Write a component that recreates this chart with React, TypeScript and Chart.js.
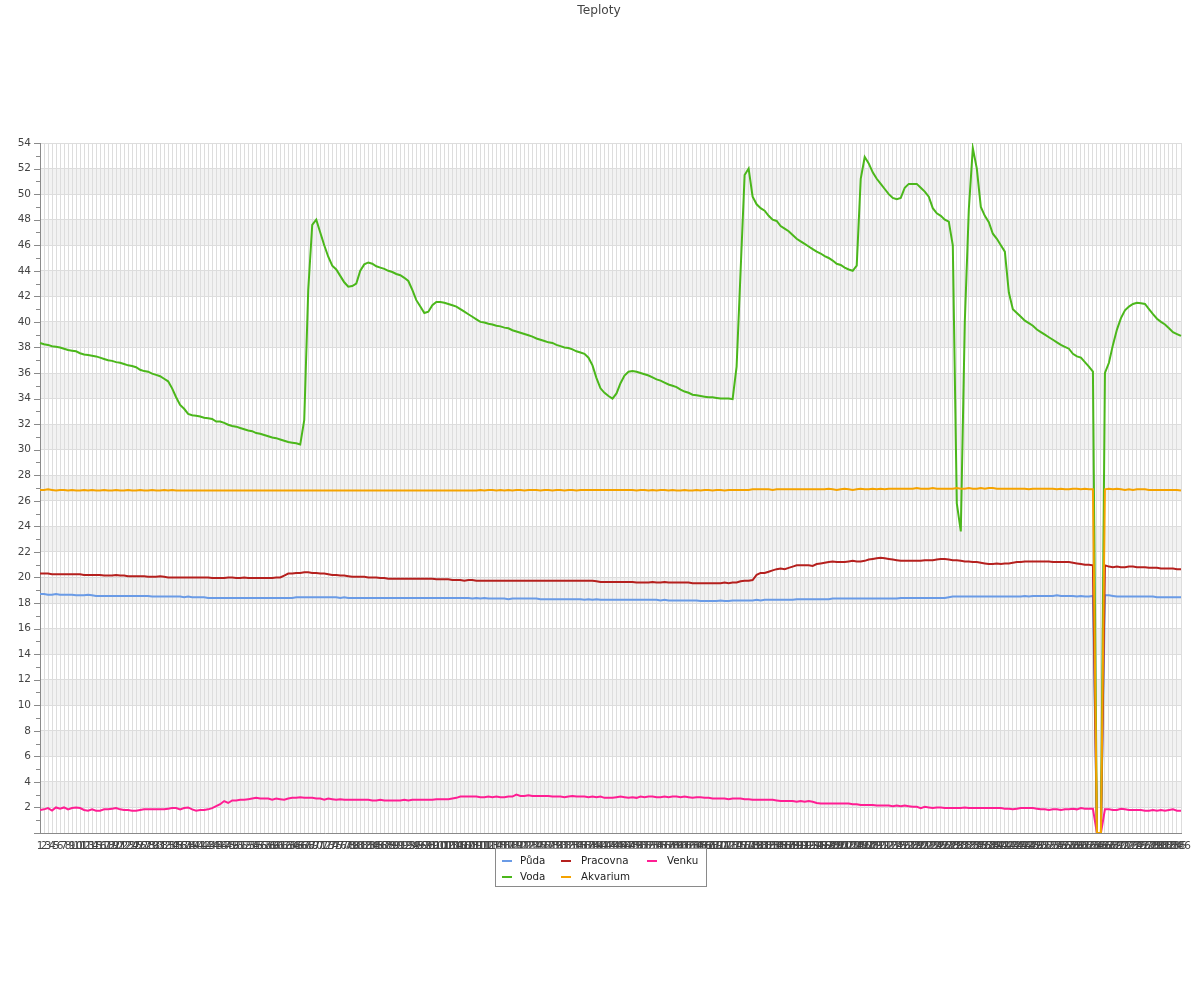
import React, { useEffect, useRef } from "react";
import { Chart, registerables } from "chart.js";

Chart.register(...registerables);

const TITLE = "Teploty";
const SERIES_NAMES = ["Půda", "Voda", "Pracovna", "Akvarium", "Venku"];
const SERIES_COLORS = ["#6A9BE6", "#4BB71B", "#B5201E", "#F5A300", "#FF1E93"];

const Y_MIN = 0;
const Y_MAX = 54;
const Y_STEP = 2;

const puda = [
  18.7, 18.7, 18.65, 18.65, 18.7, 18.65, 18.65, 18.65, 18.65, 18.6,
  18.6, 18.6, 18.65, 18.6, 18.55, 18.55, 18.55, 18.55, 18.55, 18.55,
  18.55, 18.55, 18.55, 18.55, 18.55, 18.55, 18.55, 18.55, 18.5, 18.5,
  18.5, 18.5, 18.5, 18.5, 18.5, 18.5, 18.45, 18.5, 18.45, 18.45,
  18.45, 18.45, 18.4, 18.4, 18.4, 18.4, 18.4, 18.4, 18.4, 18.4,
  18.4, 18.4, 18.4, 18.4, 18.4, 18.4, 18.4, 18.4, 18.4, 18.4,
  18.4, 18.4, 18.4, 18.4, 18.45, 18.45, 18.45, 18.45, 18.45, 18.45,
  18.45, 18.45, 18.45, 18.45, 18.45, 18.4, 18.45, 18.4, 18.4, 18.4,
  18.4, 18.4, 18.4, 18.4, 18.4, 18.4, 18.4, 18.4, 18.4, 18.4,
  18.4, 18.4, 18.4, 18.4, 18.4, 18.4, 18.4, 18.4, 18.4, 18.4,
  18.4, 18.4, 18.4, 18.4, 18.4, 18.4, 18.4, 18.4, 18.35, 18.4,
  18.35, 18.4, 18.35, 18.35, 18.35, 18.35, 18.35, 18.3, 18.35, 18.35,
  18.35, 18.35, 18.35, 18.35, 18.35, 18.3, 18.3, 18.3, 18.3, 18.3,
  18.3, 18.3, 18.3, 18.3, 18.3, 18.3, 18.25, 18.3, 18.25, 18.3,
  18.25, 18.25, 18.25, 18.25, 18.25, 18.25, 18.25, 18.25, 18.25, 18.25,
  18.25, 18.25, 18.25, 18.25, 18.25, 18.2, 18.25, 18.2, 18.2, 18.2,
  18.2, 18.2, 18.2, 18.2, 18.2, 18.15, 18.15, 18.15, 18.15, 18.15,
  18.2, 18.15, 18.15, 18.2, 18.2, 18.2, 18.2, 18.2, 18.2, 18.25,
  18.2, 18.25, 18.25, 18.25, 18.25, 18.25, 18.25, 18.25, 18.25, 18.3,
  18.3, 18.3, 18.3, 18.3, 18.3, 18.3, 18.3, 18.3, 18.35, 18.35,
  18.35, 18.35, 18.35, 18.35, 18.35, 18.35, 18.35, 18.35, 18.35, 18.35,
  18.35, 18.35, 18.35, 18.35, 18.35, 18.4, 18.4, 18.4, 18.4, 18.4,
  18.4, 18.4, 18.4, 18.4, 18.4, 18.4, 18.4, 18.45, 18.5, 18.5,
  18.5, 18.5, 18.5, 18.5, 18.5, 18.5, 18.5, 18.5, 18.5, 18.5,
  18.5, 18.5, 18.5, 18.5, 18.5, 18.5, 18.55, 18.5, 18.55, 18.55,
  18.55, 18.55, 18.55, 18.55, 18.6, 18.55, 18.55, 18.55, 18.55, 18.5,
  18.55, 18.5, 18.5, 18.55, 0, 0, 18.6, 18.6, 18.55, 18.5,
  18.5, 18.5, 18.5, 18.5, 18.5, 18.5, 18.5, 18.5, 18.5, 18.45,
  18.45, 18.45, 18.45, 18.45, 18.45, 18.45,
];

const voda = [
  38.35, 38.25, 38.2, 38.1, 38.05, 38.0, 37.9, 37.8, 37.75, 37.7,
  37.55, 37.45, 37.4, 37.35, 37.3, 37.2, 37.1, 37.0, 36.95, 36.85,
  36.8, 36.7, 36.6, 36.55, 36.45, 36.25, 36.15, 36.1, 35.95, 35.85,
  35.75, 35.55, 35.35, 34.8, 34.1, 33.5, 33.2, 32.8, 32.7, 32.65,
  32.6, 32.5, 32.45, 32.4, 32.2, 32.2, 32.1, 31.95, 31.85, 31.8,
  31.7, 31.6, 31.5, 31.45, 31.3, 31.25, 31.15, 31.05, 30.95, 30.9,
  30.8, 30.7, 30.6, 30.55, 30.5, 30.4, 32.3, 42.5, 47.6, 48.0,
  47.0, 46.0, 45.1, 44.4, 44.1, 43.6, 43.1, 42.75, 42.8, 43.0,
  44.0, 44.5, 44.65, 44.55, 44.35, 44.25, 44.15, 44.0, 43.9, 43.75,
  43.65, 43.45, 43.2, 42.5, 41.7, 41.2, 40.7, 40.8, 41.3, 41.55,
  41.55, 41.5, 41.4, 41.3, 41.2, 41.0, 40.8, 40.6, 40.4, 40.2,
  40.0, 39.95, 39.85, 39.8, 39.7, 39.65, 39.55, 39.5, 39.35, 39.25,
  39.15, 39.05, 38.95, 38.85, 38.7, 38.6, 38.5, 38.4, 38.35, 38.2,
  38.1, 38.0, 37.95, 37.85, 37.7, 37.6, 37.5, 37.2, 36.6, 35.6,
  34.8, 34.45, 34.2, 34.0, 34.4, 35.2, 35.8, 36.1, 36.15, 36.1,
  36.0, 35.9, 35.8, 35.65, 35.5, 35.4, 35.25, 35.1, 35.0, 34.9,
  34.7, 34.55, 34.45, 34.3, 34.25, 34.2, 34.15, 34.1, 34.1, 34.05,
  34.0, 34.0, 34.0, 33.95, 36.5, 44.0, 51.5, 52.0, 49.8, 49.2,
  48.9, 48.7, 48.3, 48.0, 47.9, 47.5, 47.3, 47.1, 46.8, 46.5,
  46.3, 46.1, 45.9, 45.7, 45.5, 45.35, 45.15, 45.0, 44.8, 44.55,
  44.45, 44.25, 44.1, 44.0, 44.4, 51.2, 52.9, 52.4, 51.7, 51.2,
  50.8, 50.4, 50.0, 49.7, 49.6, 49.7, 50.5, 50.8, 50.8, 50.8,
  50.5, 50.2, 49.8, 48.9, 48.5, 48.3, 48.0, 47.85, 46.0, 25.8,
  23.6, 40.0, 48.8, 53.6, 52.0, 49.0, 48.3, 47.8, 46.9, 46.5,
  46.0, 45.5, 42.3, 41.0, 40.7, 40.4, 40.1, 39.9, 39.7, 39.4,
  39.2, 39.0, 38.8, 38.6, 38.4, 38.2, 38.05, 37.9, 37.5, 37.3,
  37.2, 36.85, 36.5, 36.1, 0, 0, 36.0, 36.8, 38.2, 39.4,
  40.3, 40.9, 41.2, 41.4, 41.5, 41.45, 41.4, 41.0, 40.6, 40.25,
  40.0, 39.8, 39.5, 39.2, 39.05, 38.9,
];

const pracovna = [
  20.3, 20.3, 20.3, 20.25, 20.25, 20.25, 20.25, 20.25, 20.25, 20.25,
  20.25, 20.2, 20.2, 20.2, 20.2, 20.2, 20.15, 20.15, 20.15, 20.2,
  20.15, 20.15, 20.1, 20.1, 20.1, 20.1, 20.1, 20.05, 20.05, 20.05,
  20.1, 20.05, 20.0, 20.0, 20.0, 20.0, 20.0, 20.0, 20.0, 20.0,
  20.0, 20.0, 20.0, 19.95, 19.95, 19.95, 19.95, 20.0, 20.0, 19.95,
  19.95, 20.0, 19.95, 19.95, 19.95, 19.95, 19.95, 19.95, 19.95, 20.0,
  20.0, 20.15, 20.3, 20.3, 20.35, 20.35, 20.4, 20.4, 20.35, 20.35,
  20.3, 20.3, 20.25, 20.2, 20.2, 20.15, 20.15, 20.1, 20.05, 20.05,
  20.05, 20.05, 20.0, 20.0, 20.0, 19.95, 19.95, 19.9, 19.9, 19.9,
  19.9, 19.9, 19.9, 19.9, 19.9, 19.9, 19.9, 19.9, 19.9, 19.85,
  19.85, 19.85, 19.85, 19.8, 19.8, 19.8, 19.75, 19.8, 19.8, 19.75,
  19.75, 19.75, 19.75, 19.75, 19.75, 19.75, 19.75, 19.75, 19.75, 19.75,
  19.75, 19.75, 19.75, 19.75, 19.75, 19.75, 19.75, 19.75, 19.75, 19.75,
  19.75, 19.75, 19.75, 19.75, 19.75, 19.75, 19.75, 19.75, 19.75, 19.7,
  19.65, 19.65, 19.65, 19.65, 19.65, 19.65, 19.65, 19.65, 19.65, 19.6,
  19.6, 19.6, 19.6, 19.65, 19.6, 19.6, 19.65, 19.6, 19.6, 19.6,
  19.6, 19.6, 19.6, 19.55, 19.55, 19.55, 19.55, 19.55, 19.55, 19.55,
  19.55, 19.6, 19.55, 19.6, 19.6, 19.7, 19.75, 19.75, 19.8, 20.2,
  20.35, 20.35, 20.45, 20.55, 20.65, 20.7, 20.65, 20.75, 20.85, 20.95,
  20.95, 20.95, 20.95, 20.9, 21.05, 21.1, 21.15, 21.2, 21.25, 21.2,
  21.2, 21.2, 21.25, 21.3, 21.25, 21.25, 21.3, 21.4, 21.45, 21.5,
  21.55, 21.5, 21.45, 21.4, 21.35, 21.3, 21.3, 21.3, 21.3, 21.3,
  21.3, 21.35, 21.35, 21.35, 21.4, 21.45, 21.45, 21.4, 21.35, 21.35,
  21.3, 21.25, 21.25, 21.2, 21.2, 21.15, 21.1, 21.05, 21.05, 21.1,
  21.05, 21.1, 21.1, 21.15, 21.2, 21.2, 21.25, 21.25, 21.25, 21.25,
  21.25, 21.25, 21.25, 21.2, 21.2, 21.2, 21.2, 21.2, 21.15, 21.1,
  21.05, 21.0, 21.0, 20.95, 0, 0, 20.95, 20.85, 20.8, 20.85,
  20.8, 20.8, 20.85, 20.85, 20.8, 20.8, 20.8, 20.75, 20.75, 20.75,
  20.7, 20.7, 20.7, 20.7, 20.65, 20.65,
];

const akvarium = [
  26.85, 26.85, 26.9, 26.85, 26.8, 26.85, 26.85, 26.8, 26.85, 26.8,
  26.8, 26.85, 26.8, 26.85, 26.8, 26.8, 26.85, 26.8, 26.8, 26.85,
  26.8, 26.8, 26.85, 26.8, 26.8, 26.85, 26.8, 26.8, 26.85, 26.8,
  26.8, 26.85, 26.8, 26.85, 26.8, 26.8, 26.8, 26.8, 26.8, 26.8,
  26.8, 26.8, 26.8, 26.8, 26.8, 26.8, 26.8, 26.8, 26.8, 26.8,
  26.8, 26.8, 26.8, 26.8, 26.8, 26.8, 26.8, 26.8, 26.8, 26.8,
  26.8, 26.8, 26.8, 26.8, 26.8, 26.8, 26.8, 26.8, 26.8, 26.8,
  26.8, 26.8, 26.8, 26.8, 26.8, 26.8, 26.8, 26.8, 26.8, 26.8,
  26.8, 26.8, 26.8, 26.8, 26.8, 26.8, 26.8, 26.8, 26.8, 26.8,
  26.8, 26.8, 26.8, 26.8, 26.8, 26.8, 26.8, 26.8, 26.8, 26.8,
  26.8, 26.8, 26.8, 26.8, 26.8, 26.8, 26.8, 26.8, 26.8, 26.8,
  26.85, 26.8, 26.85, 26.85, 26.8, 26.85, 26.8, 26.85, 26.8, 26.85,
  26.85, 26.8, 26.85, 26.85, 26.85, 26.8, 26.85, 26.85, 26.8, 26.85,
  26.85, 26.8, 26.85, 26.85, 26.8, 26.85, 26.85, 26.85, 26.85, 26.85,
  26.85, 26.85, 26.85, 26.85, 26.85, 26.85, 26.85, 26.85, 26.85, 26.8,
  26.85, 26.85, 26.8, 26.85, 26.8, 26.85, 26.85, 26.8, 26.85, 26.8,
  26.8, 26.85, 26.8, 26.8, 26.85, 26.8, 26.85, 26.85, 26.8, 26.85,
  26.85, 26.8, 26.85, 26.85, 26.85, 26.85, 26.85, 26.85, 26.9, 26.9,
  26.9, 26.9, 26.9, 26.85, 26.9, 26.9, 26.9, 26.9, 26.9, 26.9,
  26.9, 26.9, 26.9, 26.9, 26.9, 26.9, 26.9, 26.95, 26.9, 26.85,
  26.9, 26.95, 26.9, 26.85, 26.9, 26.95, 26.9, 26.9, 26.95, 26.9,
  26.95, 26.9, 26.95, 26.95, 26.95, 26.95, 26.95, 26.95, 26.95, 27.0,
  26.95, 26.95, 26.95, 27.0, 26.95, 26.95, 26.95, 26.95, 26.95, 27.0,
  26.95, 26.95, 27.0, 26.95, 26.95, 27.0, 26.95, 27.0, 27.0, 26.95,
  26.95, 26.95, 26.95, 26.95, 26.95, 26.95, 26.95, 26.9, 26.95, 26.95,
  26.95, 26.95, 26.95, 26.95, 26.9, 26.95, 26.9, 26.9, 26.95, 26.95,
  26.9, 26.95, 26.9, 26.9, 0, 0, 26.9, 26.95, 26.9, 26.95,
  26.9, 26.85, 26.9, 26.85, 26.9, 26.9, 26.9, 26.85, 26.85, 26.85,
  26.85, 26.85, 26.85, 26.85, 26.85, 26.8,
];

const venku = [
  1.8, 1.85, 1.95, 1.75, 2.0, 1.9, 2.0, 1.85, 1.95, 2.0,
  1.95, 1.8, 1.75, 1.85, 1.75, 1.75, 1.85, 1.85, 1.9, 1.95,
  1.85, 1.8, 1.8, 1.75, 1.75, 1.8, 1.85, 1.85, 1.85, 1.85,
  1.85, 1.85, 1.9, 1.95, 1.95, 1.85, 1.95, 2.0, 1.85, 1.75,
  1.8, 1.8, 1.85, 1.95, 2.1, 2.25, 2.5, 2.35, 2.55, 2.55,
  2.6, 2.6, 2.65, 2.7, 2.75, 2.7, 2.7, 2.7, 2.6, 2.7,
  2.65, 2.6, 2.7, 2.75, 2.75, 2.8, 2.75, 2.75, 2.75, 2.7,
  2.7, 2.6, 2.7, 2.65, 2.6, 2.65, 2.6, 2.6, 2.6, 2.6,
  2.6, 2.6, 2.6, 2.55, 2.55, 2.6, 2.55, 2.55, 2.55, 2.55,
  2.55, 2.6, 2.55, 2.6, 2.6, 2.6, 2.6, 2.6, 2.6, 2.65,
  2.65, 2.65, 2.65, 2.7, 2.75, 2.85, 2.85, 2.85, 2.85, 2.85,
  2.8, 2.8, 2.85, 2.8, 2.85, 2.8, 2.8, 2.85, 2.85, 3.0,
  2.9, 2.9, 2.95, 2.9, 2.9, 2.9, 2.9, 2.9, 2.85, 2.85,
  2.85, 2.8, 2.85, 2.9, 2.85, 2.85, 2.85, 2.8, 2.85, 2.8,
  2.85, 2.75, 2.75, 2.75, 2.8, 2.85, 2.8, 2.75, 2.8, 2.75,
  2.85, 2.8, 2.85, 2.85, 2.8, 2.8, 2.85, 2.8, 2.85, 2.85,
  2.8, 2.85, 2.8, 2.75, 2.8, 2.8, 2.75, 2.75, 2.7, 2.7,
  2.7, 2.7, 2.65, 2.7, 2.7, 2.7, 2.65, 2.65, 2.6, 2.6,
  2.6, 2.6, 2.6, 2.6, 2.55, 2.5, 2.5, 2.5, 2.5, 2.45,
  2.5, 2.45, 2.5, 2.45, 2.35, 2.3, 2.3, 2.3, 2.3, 2.3,
  2.3, 2.3, 2.3, 2.25, 2.25, 2.2, 2.2, 2.2, 2.2, 2.15,
  2.15, 2.15, 2.15, 2.1, 2.15, 2.1, 2.15, 2.1, 2.05, 2.05,
  1.95, 2.05, 2.0, 1.95, 2.0, 2.0, 1.95, 1.95, 1.95, 1.95,
  1.95, 2.0, 1.95, 1.95, 1.95, 1.95, 1.95, 1.95, 1.95, 1.95,
  1.95, 1.9, 1.9, 1.85, 1.9, 1.95, 1.95, 1.95, 1.95, 1.9,
  1.85, 1.85, 1.8, 1.85, 1.85, 1.8, 1.85, 1.85, 1.9, 1.85,
  1.95, 1.9, 1.9, 1.9, 0, 0, 1.85, 1.85, 1.8, 1.8,
  1.9, 1.85, 1.8, 1.8, 1.8, 1.8, 1.75, 1.75, 1.8, 1.75,
  1.8, 1.75, 1.8, 1.85, 1.75, 1.75,
];

const X_LABELS = puda.map((_, i) => String(i + 1));
const SERIES_VALUES = [puda, voda, pracovna, akvarium, venku];
const DRAW_ORDER = [4, 1, 3, 0, 2];

const FONT = '"DejaVu Sans", sans-serif';

const bandsPlugin = {
  id: "bands",
  beforeDraw(chart: any) {
    const { ctx, chartArea, scales } = chart;
    const y = scales.y;
    ctx.save();
    ctx.fillStyle = "#f2f2f2";
    for (let v = 2; v < Y_MAX; v += 4) {
      const top = y.getPixelForValue(Math.min(v + 2, Y_MAX));
      const bot = y.getPixelForValue(v);
      ctx.fillRect(chartArea.left, top, chartArea.right - chartArea.left, bot - top);
    }
    ctx.restore();
  },
  afterDraw(chart: any) {
    const { ctx, chartArea, scales } = chart;
    const y = scales.y;
    ctx.save();
    ctx.strokeStyle = "#8a8a8a";
    ctx.lineWidth = 1;
    for (let v = Y_MIN; v <= Y_MAX; v += 1) {
      const py = Math.round(y.getPixelForValue(v)) + 0.5;
      const len = v % 2 === 0 ? 6 : 4;
      ctx.beginPath();
      ctx.moveTo(chartArea.left - len, py);
      ctx.lineTo(chartArea.left, py);
      ctx.stroke();
    }
    ctx.fillStyle = "#444";
    ctx.font = `12.2px ${FONT}`;
    ctx.textAlign = "center";
    ctx.textBaseline = "middle";
    ctx.fillText(TITLE, 599, 11);

    const bx = 495.5, by = 848.5, bw = 211, bh = 38;
    ctx.fillStyle = "#ffffff";
    ctx.fillRect(bx, by, bw, bh);
    ctx.strokeStyle = "#8a8a8a";
    ctx.strokeRect(bx, by, bw, bh);
    const cols = [502, 561, 647];
    const textCols = [520, 581, 667];
    const rows = [861, 877];
    const layout = [
      [0, 0, 0],
      [1, 0, 1],
      [2, 1, 0],
      [3, 1, 1],
      [4, 2, 0],
    ];
    ctx.font = `10.3px ${FONT}`;
    ctx.textAlign = "left";
    ctx.textBaseline = "middle";
    layout.forEach(([s, c, r]) => {
      ctx.strokeStyle = SERIES_COLORS[s];
      ctx.lineWidth = 2;
      ctx.beginPath();
      ctx.moveTo(cols[c], rows[r]);
      ctx.lineTo(cols[c] + 10, rows[r]);
      ctx.stroke();
      ctx.fillStyle = "#222";
      ctx.fillText(SERIES_NAMES[s], textCols[c], rows[r]);
    });
    ctx.restore();
  },
};

export default function App() {
  const ref = useRef<HTMLCanvasElement | null>(null);
  useEffect(() => {
    if (!ref.current) return;
    const chart = new Chart(ref.current, {
      type: "line",
      data: {
        labels: X_LABELS,
        datasets: SERIES_NAMES.map((name, i) => ({
          label: name,
          data: SERIES_VALUES[i],
          borderColor: SERIES_COLORS[i],
          backgroundColor: SERIES_COLORS[i],
          borderWidth: 2,
          pointRadius: 0,
          tension: 0,
          fill: false,
          order: DRAW_ORDER[i],
        })),
      },
      options: {
        responsive: false,
        animation: false,
        layout: { padding: { top: 143, right: 19, left: 0, bottom: 0 } },
        plugins: {
          legend: { display: false },
          title: { display: false },
          tooltip: { enabled: false },
        },
        scales: {
          x: {
            type: "category",
            offset: false,
            grid: { color: "#dddddd", drawTicks: false, lineWidth: 1 },
            border: { color: "#8a8a8a", width: 1 },
            ticks: {
              autoSkip: false,
              maxRotation: 0,
              minRotation: 0,
              padding: 7,
              color: "#444",
              font: { family: FONT, size: 10.5 },
            },
            afterFit: (s: any) => {
              s.height = 167;
            },
          },
          y: {
            min: Y_MIN,
            max: Y_MAX,
            grid: {
              drawTicks: false,
              color: (c: any) =>
                c.tick && c.tick.value % Y_STEP === 0 ? "#dddddd" : "rgba(0,0,0,0)",
            },
            border: { color: "#8a8a8a", width: 1 },
            ticks: {
              stepSize: 1,
              padding: 9,
              color: "#444",
              font: { family: FONT, size: 10.5 },
              callback: (v: any) => (v % Y_STEP === 0 && v !== 0 ? String(v) : ""),
            },
            afterFit: (s: any) => {
              s.width = 40;
            },
          },
        },
      },
      plugins: [bandsPlugin],
    });
    return () => chart.destroy();
  }, []);
  return (
    <div style={{ position: "fixed", left: 0, top: 0, width: 1200, height: 1000, background: "#fff" }}>
      <canvas ref={ref} width={1200} height={1000} style={{ width: 1200, height: 1000, display: "block" }} />
    </div>
  );
}
